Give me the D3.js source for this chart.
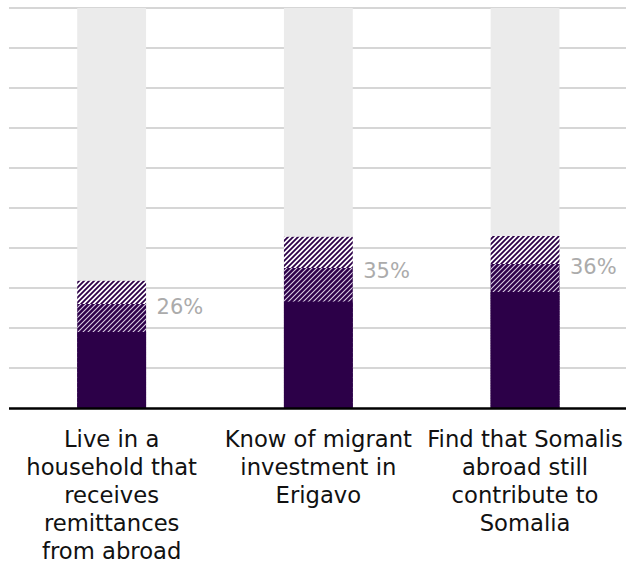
<!DOCTYPE html>
<html><head><meta charset="utf-8">
<script src="https://cdn.jsdelivr.net/npm/d3@7"></script>
<style>body{margin:0;background:#fff}svg{display:block}</style>
</head><body>
<svg id="c" width="626" height="563"></svg>
<script>
const categories = [
  ["Live in a","household that","receives","remittances","from abroad"],
  ["Know of migrant","investment in","Erigavo"],
  ["Find that Somalis","abroad still","contribute to","Somalia"]
];
const solidValues = [19, 26.6, 29];
const darkHatchValues = [26, 35, 36];
const lightHatchValues = [31.8, 42.8, 43];
const totalValues = [100, 100, 100];
const labels = ["26%", "35%", "36%"];
const gridTicks = [0,10,20,30,40,50,60,70,80,90,100];

const purple = "#2c0048";
const svg = d3.select("#c");
const defs = svg.append("defs");
function hatch(id, bg, fg, w){
  const p = defs.append("pattern").attr("id", id).attr("patternUnits","userSpaceOnUse")
    .attr("width",5).attr("height",5);
  p.append("rect").attr("width",5).attr("height",5).attr("fill",bg);
  p.append("path").attr("d","M-1,1 l2,-2 M0,5 l5,-5 M4,6 l2,-2")
    .attr("stroke",fg).attr("stroke-width",w);
}
hatch("lightH", "#ffffff", purple, 1.8);
hatch("darkH", purple, "#d8cce4", 1.1);

const idx = [0,1,2];
const x = d3.scaleBand().domain(idx).range([8.3, 628.4]).paddingInner(0.667).paddingOuter(0.3335);
const y = d3.scaleLinear().domain([0,100]).range([408, 8]);

svg.append("g").selectAll("line").data(gridTicks.slice(1)).join("line")
  .attr("x1",9).attr("x2",626).attr("y1",d=>y(d)).attr("y2",d=>y(d))
  .attr("stroke","#c8c8c8").attr("stroke-width",1.5);

const layers = [
  {vals: totalValues, fill: "#ebebeb"},
  {vals: lightHatchValues, fill: "url(#lightH)"},
  {vals: darkHatchValues, fill: "url(#darkH)"},
  {vals: solidValues, fill: purple}
];
layers.forEach(L => {
  svg.append("g").selectAll("rect").data(idx).join("rect")
    .attr("x", i=>x(i)).attr("width", x.bandwidth())
    .attr("y", i=>y(L.vals[i])).attr("height", i=>y(0)-y(L.vals[i]))
    .attr("fill", L.fill);
});

svg.append("line").attr("x1",9).attr("x2",626).attr("y1",y(0)+0.5).attr("y2",y(0)+0.5)
  .attr("stroke","#000").attr("stroke-width",2.5);

svg.append("g").selectAll("text").data(idx).join("text")
  .attr("x", i=>x(i)+x.bandwidth()+10.5)
  .attr("y", i=>y(darkHatchValues[i])+2)
  .attr("dy","0.36em")
  .attr("font-family","'DejaVu Sans', sans-serif").attr("font-size",21)
  .attr("fill","#ababab").text(i=>labels[i]);

const lab = svg.append("g").selectAll("text").data(idx).join("text")
  .attr("text-anchor","middle")
  .attr("font-family","'DejaVu Sans', sans-serif").attr("font-size",22.7)
  .attr("fill","#111");
lab.each(function(i){
  const t = d3.select(this);
  categories[i].forEach((line,k)=>{
    t.append("tspan").attr("x", x(i)+x.bandwidth()/2).attr("y", 446.5 + k*28.0).text(line);
  });
});
</script>
</body></html>
